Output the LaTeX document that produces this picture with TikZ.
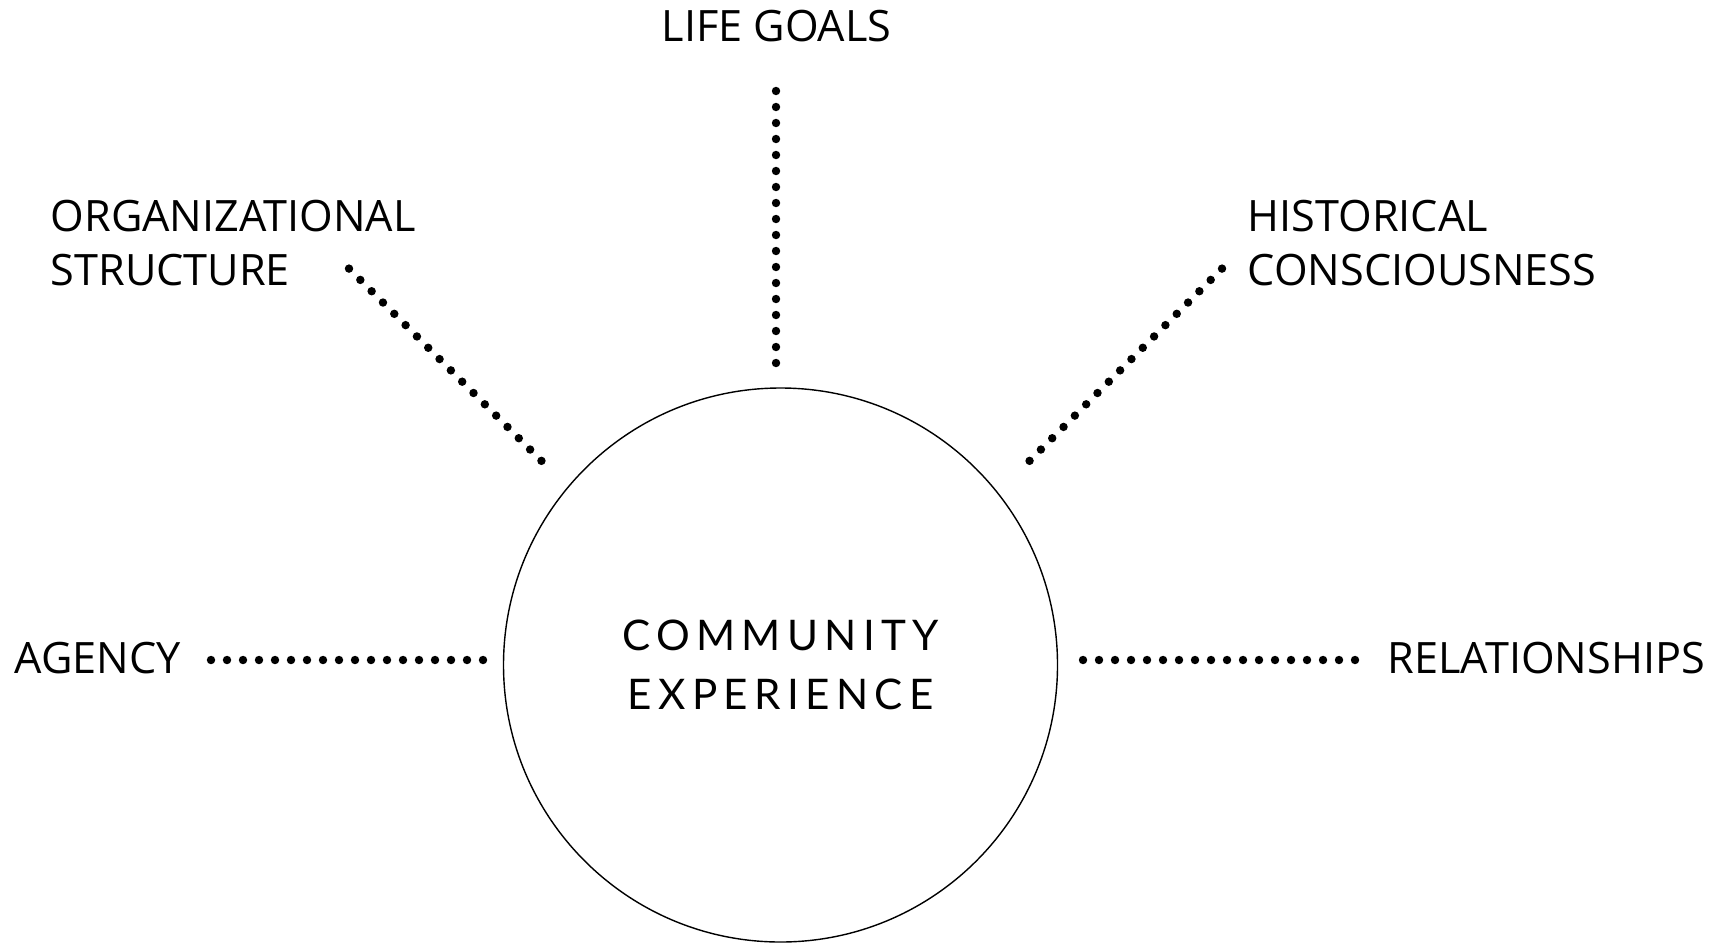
\documentclass[tikz,border=0pt]{standalone}
\usepackage{fontspec}
\setmainfont{Open Sans}
\newfontfamily\hubfont[LetterSpace=15]{Lato}
\usetikzlibrary{positioning}

\begin{document}
\begin{tikzpicture}
    % Styles
    \tikzstyle{hub} = [circle, draw, thin, minimum size=5.54cm, inner sep=0pt, align=center, font={\hubfont\fontsize{12}{16.8}\selectfont}]
    \tikzstyle{factor} = [inner sep=0pt, align=left, font={\fontsize{12.3}{15.1}\selectfont}]
    \tikzstyle{dotline} = [draw, line width=2.4pt, line cap=round, dash pattern=on 0pt off 0.16cm]

    \useasboundingbox (0,0) rectangle (17.33,9.43);

    % Nodes
    \node [hub] (hub) at (7.805,2.78) {COMMUNITY\\EXPERIENCE};
    \node [factor, anchor=base] (goals) at (7.765,9.01) {LIFE GOALS};
    \node [factor, anchor=base west] (org) at (0.5,6.58) {ORGANIZATIONAL\\STRUCTURE};
    \node [factor, anchor=base west] (hist) at (12.47,6.58) {HISTORICAL\\CONSCIOUSNESS};
    \node [factor, anchor=base west] (agency) at (0.14,2.70) {AGENCY};
    \node [factor, anchor=base west] (rel) at (13.87,2.70) {RELATIONSHIPS};

    % Ends of the dotted lines
    \coordinate (goals-a) at (7.76,8.52);
    \coordinate (goals-b) at (7.76,5.795);
    \coordinate (org-a) at (3.49,6.744);
    \coordinate (org-b) at (5.416,4.82);
    \coordinate (hist-a) at (12.22,6.744);
    \coordinate (hist-b) at (10.294,4.82);
    \coordinate (agency-a) at (2.11,2.83);
    \coordinate (agency-b) at (4.835,2.83);
    \coordinate (rel-a) at (13.55,2.83);
    \coordinate (rel-b) at (10.825,2.83);

    % Connections
    \path [dotline] (goals-a) -- (goals-b);
    \path [dotline] (org-a) -- (org-b);
    \path [dotline] (hist-a) -- (hist-b);
    \path [dotline] (agency-a) -- (agency-b);
    \path [dotline] (rel-a) -- (rel-b);

\end{tikzpicture}
\end{document}
